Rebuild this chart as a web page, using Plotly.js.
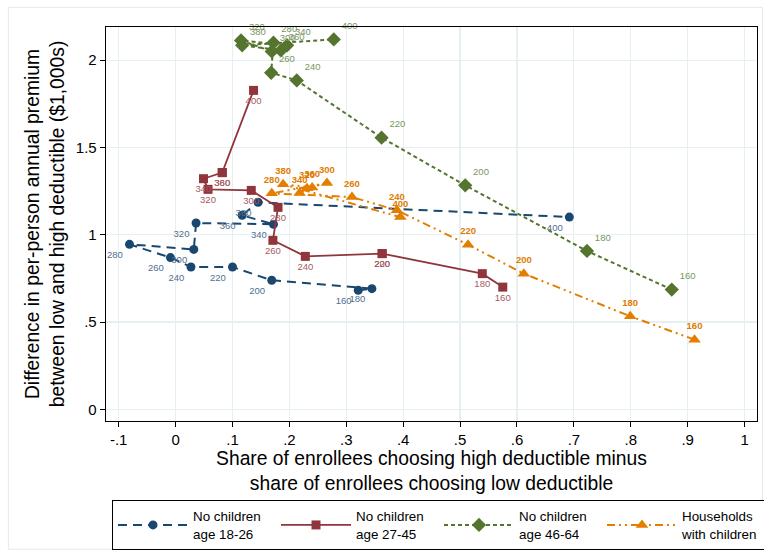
<!DOCTYPE html>
<html>
<head>
<meta charset="utf-8">
<script src="https://cdn.plot.ly/plotly-3.0.1.min.js"></script>
<style>
  html, body { margin: 0; padding: 0; background: #fff; }
  #chart { width: 764px; height: 556px; }
</style>
</head>
<body>
<div id="chart"></div>
<script>
// Premium level labels attached to each point
const levels = ["160", "180", "200", "220", "240", "260", "280", "300", "320", "340", "360", "380", "400"];

// No children, age 18-26
const youngX = [0.321, 0.345, 0.169, 0.100, 0.027, -0.009, -0.081, 0.032, 0.036, 0.172, 0.117, 0.145, 0.692];
const youngY = [0.682, 0.691, 0.739, 0.815, 0.815, 0.869, 0.945, 0.916, 1.067, 1.060, 1.111, 1.186, 1.101];

// No children, age 27-45
const midX = [0.575, 0.539, 0.363, 0.363, 0.228, 0.171, 0.180, 0.133, 0.057, 0.049, 0.082, 0.082, 0.137];
const midY = [0.700, 0.777, 0.892, 0.892, 0.876, 0.968, 1.157, 1.254, 1.260, 1.321, 1.356, 1.356, 1.827];

// No children, age 46-64
const oldX = [0.872, 0.723, 0.509, 0.362, 0.213, 0.168, 0.172, 0.169, 0.115, 0.196, 0.185, 0.117, 0.278];
const oldY = [0.686, 0.907, 1.283, 1.556, 1.884, 1.928, 2.100, 2.050, 2.113, 2.085, 2.056, 2.085, 2.119];

// Households with children
const famX = [0.912, 0.799, 0.612, 0.514, 0.389, 0.310, 0.169, 0.266, 0.231, 0.218, 0.240, 0.189, 0.395];
const famY = [0.399, 0.533, 0.777, 0.943, 1.140, 1.216, 1.237, 1.296, 1.267, 1.239, 1.271, 1.289, 1.101];

// Axis ticks
const xTickVals = [-0.1, 0, 0.1, 0.2, 0.3, 0.4, 0.5, 0.6, 0.7, 0.8, 0.9, 1];
const xTickText = ["-.1", "0", ".1", ".2", ".3", ".4", ".5", ".6", ".7", ".8", ".9", "1"];
const yTickVals = [0, 0.5, 1, 1.5, 2];
const yTickText = ["0", ".5", "1", "1.5", "2"];

const seriesNames = ["No children<br>age 18-26", "No children<br>age 27-45", "No children<br>age 46-64", "Households<br>with children"];

const FONT = "Liberation Sans, Arial, Helvetica, sans-serif";

function series(x, y, name, color, labelColor, labelWeight, dash, width, symbol, size, textpos) {
  return {
    type: "scatter",
    mode: "lines+markers+text",
    x: x, y: y,
    text: levels,
    textposition: textpos,
    textfont: { family: FONT, size: 9.5, color: labelColor, weight: labelWeight },
    name: name,
    line: { color: color, width: width, dash: dash },
    marker: { color: color, symbol: symbol, size: size },
    cliponaxis: false,
    hoverinfo: "x+y+text"
  };
}

const traces = [
  series(youngX, youngY, seriesNames[0], "#1a476f", "#4f6f8f", 400, "9px,6px", 2, "circle", 9, "bottom left"),
  series(midX, midY, seriesNames[1], "#90353b", "#a65a60", 400, "solid", 1.8, "square", 9, "bottom center"),
  series(oldX, oldY, seriesNames[2], "#55752f", "#7a9560", 400, "4px,3px", 2, "diamond", 11, "top right"),
  series(famX, famY, seriesNames[3], "#e37e00", "#e07c00", 700, "8px,4px,2px,4px,2px,4px", 2, "triangle-up", 11, "top center")
];

const axisCommon = {
  showline: true,
  linecolor: "#000",
  linewidth: 1.3,
  mirror: true,
  ticks: "outside",
  ticklen: 5,
  tickcolor: "#000",
  tickwidth: 1,
  showgrid: true,
  gridcolor: "#e6eff1",
  gridwidth: 1.2,
  zeroline: false,
  automargin: false,
  tickfont: { family: FONT, size: 15, color: "#000" }
};

const layout = {
  width: 764,
  height: 556,
  paper_bgcolor: "#fff",
  plot_bgcolor: "#fff",
  margin: { l: 106, r: 7, t: 27, b: 135 },
  showlegend: true,
  xaxis: Object.assign({}, axisCommon, {
    range: [-0.1223, 1.0218],
    tickmode: "array",
    tickvals: xTickVals,
    ticktext: xTickText,
    title: {
      text: "Share of enrollees choosing high deductible minus<br>share of enrollees choosing low deductible",
      font: { family: FONT, size: 19.3, color: "#000" },
      standoff: 2
    }
  }),
  yaxis: Object.assign({}, axisCommon, {
    range: [-0.067, 2.19],
    tickmode: "array",
    tickvals: yTickVals,
    ticktext: yTickText,
    title: {
      text: "Difference in per-person annual premium<br>between low and high deductible ($1,000s)",
      font: { family: FONT, size: 19.3, color: "#000" },
      standoff: 6
    }
  }),
  legend: {
    orientation: "h",
    xref: "container",
    yref: "container",
    x: 0.1466,
    xanchor: "left",
    y: 0.1007,
    yanchor: "top",
    bgcolor: "#fff",
    bordercolor: "#000",
    borderwidth: 1,
    entrywidth: 78,
    itemwidth: 70,
    font: { family: FONT, size: 13.4, color: "#000" }
  },
  shapes: [
    {
      type: "rect", xref: "paper", yref: "paper",
      x0: -0.150, x1: 1.0085, y0: -0.3256, y1: 1.05,
      line: { color: "#e8e8e8", width: 1 },
      fillcolor: "rgba(0,0,0,0)",
      layer: "below"
    }
  ]
};

Plotly.newPlot("chart", traces, layout, { displayModeBar: false, staticPlot: true });
</script>
</body>
</html>
